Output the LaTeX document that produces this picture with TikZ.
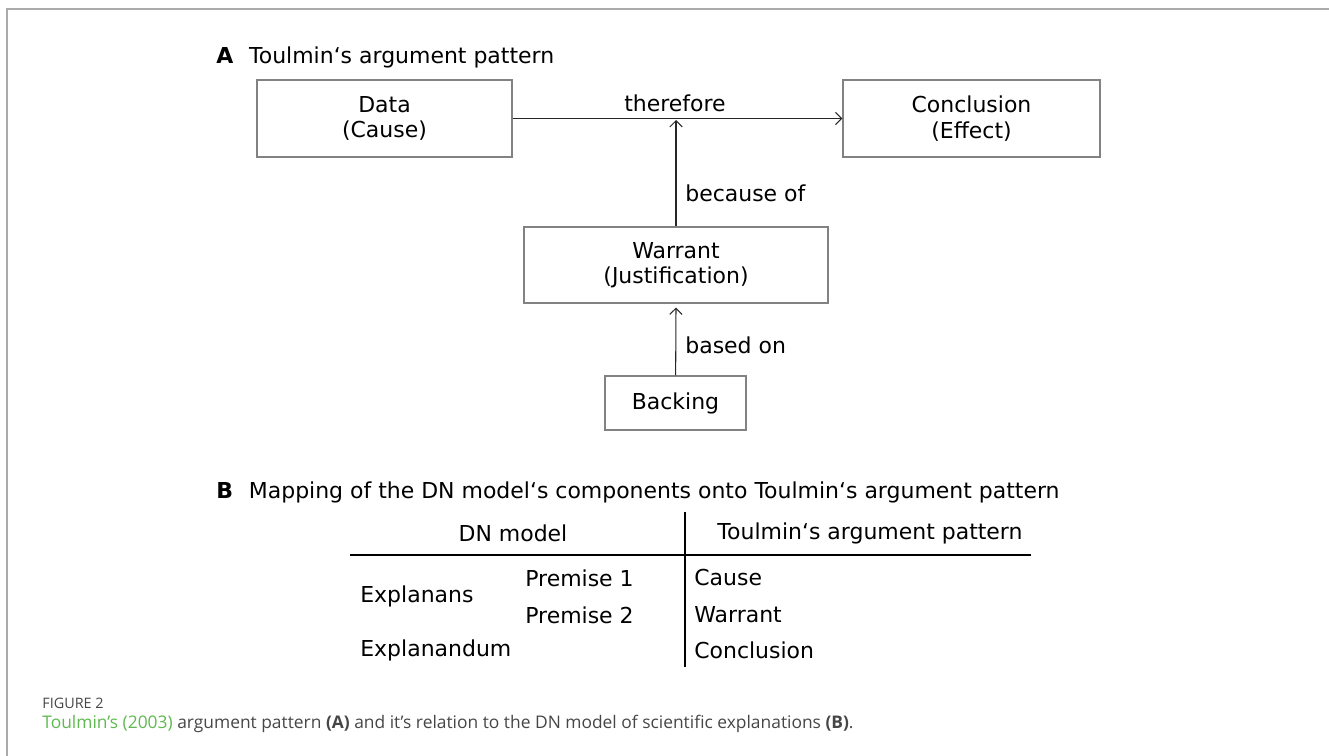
\documentclass[tikz,border=0pt]{standalone}
\usepackage{fontspec}
\setmainfont{DejaVu Sans}
\newfontfamily\capfont{Open Sans}
\usetikzlibrary{arrows.meta}
\definecolor{framegray}{RGB}{170,170,170}
\definecolor{boxgray}{RGB}{130,130,130}
\definecolor{capgreen}{RGB}{95,185,80}
\definecolor{captext}{RGB}{70,70,70}
\begin{document}
\begin{tikzpicture}[x=0.02cm,y=-0.02cm,font=\fontsize{12.5}{14.5}\selectfont]

  \tikzstyle{box}=[draw=boxgray,line width=0.6pt,align=center,inner sep=0pt]
  \tikzstyle{lbl}=[inner sep=0pt,anchor=west]
  \tikzstyle{link}=[draw=black!85,line width=0.6pt,-{Straight Barb[length=3.5pt,width=7pt]}]
  \tikzstyle{rule}=[line width=1.1pt]

  \useasboundingbox (0,0) rectangle (1329,756);
  \draw[framegray,line width=1.4pt] (1329,9) -- (7,9) -- (7,756);

  % part A
  \node[lbl] (headA) at (216,57) {\textbf{A}\hspace{9pt}Toulmin‘s argument pattern};

  \node[box,minimum width=255*0.02cm,minimum height=77*0.02cm] (data) at (384.5,118.5) {Data\\(Cause)};
  \node[box,minimum width=257*0.02cm,minimum height=77*0.02cm] (concl) at (971.5,118.5) {Conclusion\\(Effect)};
  \node[box,minimum width=304*0.02cm,minimum height=76*0.02cm] (warrant) at (676,265) {Warrant\\(Justification)};
  \node[box,minimum width=141*0.02cm,minimum height=54*0.02cm] (backing) at (675.5,403) {Backing};

  \coordinate (meet) at (676,120);
  \draw[link] (data) -- (concl);
  \draw[link] (warrant) -- (meet);
  \draw[link] (backing) -- ([yshift=-0.08cm]warrant.south);

  \node (therefore) at (675,103) {therefore};
  \node[lbl] (because) at (685,193) {because of};
  \node[lbl] (based) at (685,345) {based on};

  % part B
  \node[lbl] (headB) at (216,492) {\textbf{B}\hspace{9pt}Mapping of the DN model‘s components onto Toulmin‘s argument pattern};

  \node (dnhead) at (513,533) {DN model};
  \node (tphead) at (870,533) {Toulmin‘s argument pattern};
  \draw[rule] (350,555) -- (1031,555);
  \draw[rule] (685,512) -- (685,667);

  \node[lbl] (explanans) at (360,596) {Explanans};
  \node[lbl] (prem1) at (525,578) {Premise 1};
  \node[lbl] (prem2) at (525,615) {Premise 2};
  \node[lbl] (explanandum) at (360,650) {Explanandum};
  \node[lbl] (cause) at (694,578) {Cause};
  \node[lbl] (warr) at (694,615) {Warrant};
  \node[lbl] (conc) at (694,650) {Conclusion};

  % caption
  \node[lbl,text=captext] (fig) at (42,703) {\capfont\fontsize{8.2}{10}\selectfont FIGURE 2};
  \node[lbl,text=captext] (caption) at (42,724) {\capfont\fontsize{9.9}{12}\selectfont\textcolor{capgreen}{Toulmin’s (2003)} argument pattern \textbf{(A)} and it’s relation to the DN model of scientific explanations \textbf{(B)}.};

\end{tikzpicture}
\end{document}
